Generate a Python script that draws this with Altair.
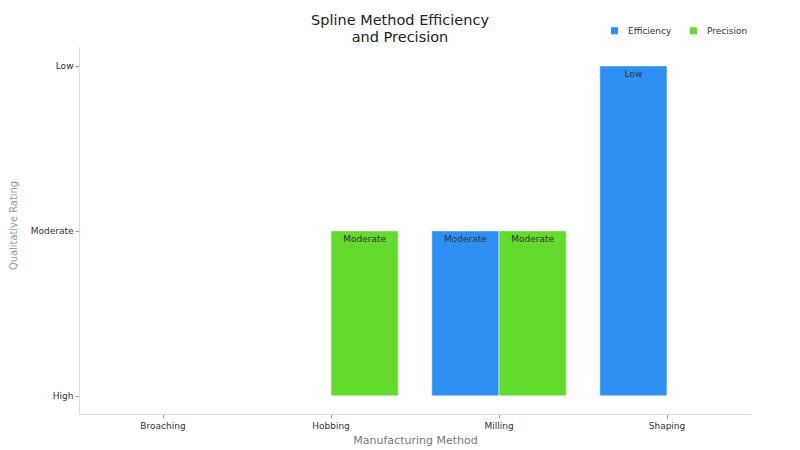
import altair as alt
import pandas as pd

methods = ["Broaching", "Hobbing", "Milling", "Shaping"]
efficiency = ["High", "High", "Moderate", "Low"]
precision = ["High", "Moderate", "Moderate", "High"]
rating_levels = ["High", "Moderate", "Low"]
series = ["Efficiency", "Precision"]
colors = ["#2f90f3", "#63da2c"]

level_num = {r: i for i, r in enumerate(rating_levels)}
rows = []
for m, e, p in zip(methods, efficiency, precision):
    rows.append({"method": m, "series": "Efficiency", "rating": e, "val": level_num[e]})
    rows.append({"method": m, "series": "Precision", "rating": p, "val": level_num[p]})
df = pd.DataFrame(rows)

font = "DejaVu Sans"

x = alt.X("method:N", sort=methods, title="Manufacturing Method",
          scale=alt.Scale(paddingInner=0.2, paddingOuter=0.1),
          axis=alt.Axis(labelAngle=0, labelFont=font, labelFontSize=9, labelColor="#333",
                        titleFont=font, titleFontSize=11, titleColor="#777", titleFontWeight="normal",
                        domainColor="#ddd", tickColor="#999", tickSize=4, labelPadding=3, titlePadding=4))
xo = alt.XOffset("series:N", sort=series)

base = alt.Chart(df)

bars = base.mark_bar(stroke="white", strokeWidth=0.5).encode(
    x=x, xOffset=xo,
    y=alt.Y("val:Q", title="Qualitative Rating",
            scale=alt.Scale(domain=[-0.11, 2.115], nice=False, zero=False),
            axis=alt.Axis(values=[0, 1, 2], grid=False,
                          labelExpr="datum.value == 0 ? 'High' : datum.value == 1 ? 'Moderate' : 'Low'",
                          labelFont=font, labelFontSize=9, labelColor="#333",
                          titleFont="DejaVu Sans Condensed", titleFontSize=11, titleColor="#999",
                          titleFontWeight="normal", titlePadding=12, titleY=178,
                          domainColor="#ddd", tickColor="#999", tickSize=4)),
    y2=alt.datum(0),
    color=alt.Color("series:N", sort=series, scale=alt.Scale(domain=series, range=colors),
                    legend=alt.Legend(title=None, orient="none", direction="horizontal",
                                      legendX=531, legendY=-21, symbolType="square",
                                      symbolSize=50, symbolStrokeWidth=0,
                                      labelFont=font, labelFontSize=9, labelColor="#333",
                                      columnPadding=17, labelOffset=9)),
)

labels = base.transform_filter("datum.val > 0").mark_text(
    baseline="top", dy=4, font=font, fontSize=9, color="#333"
).encode(
    x=x, xOffset=xo,
    y=alt.Y("val:Q"),
    text="rating:N",
)

chart = alt.layer(bars, labels).properties(
    width=672, height=367,
    padding={"left": 71, "top": 39, "right": 41, "bottom": 40},
    autosize=alt.AutoSizeParams(type="none"),
    title=alt.TitleParams(["Spline Method Efficiency", "and Precision"], font=font, fontSize=14.5,
                          fontWeight="normal", color="#222", anchor="middle", dx=-15, dy=25,
                          offset=6, lineHeight=17),
).configure_view(stroke=None)

chart.save("out.html", embed_options={"renderer": "svg", "actions": False})
